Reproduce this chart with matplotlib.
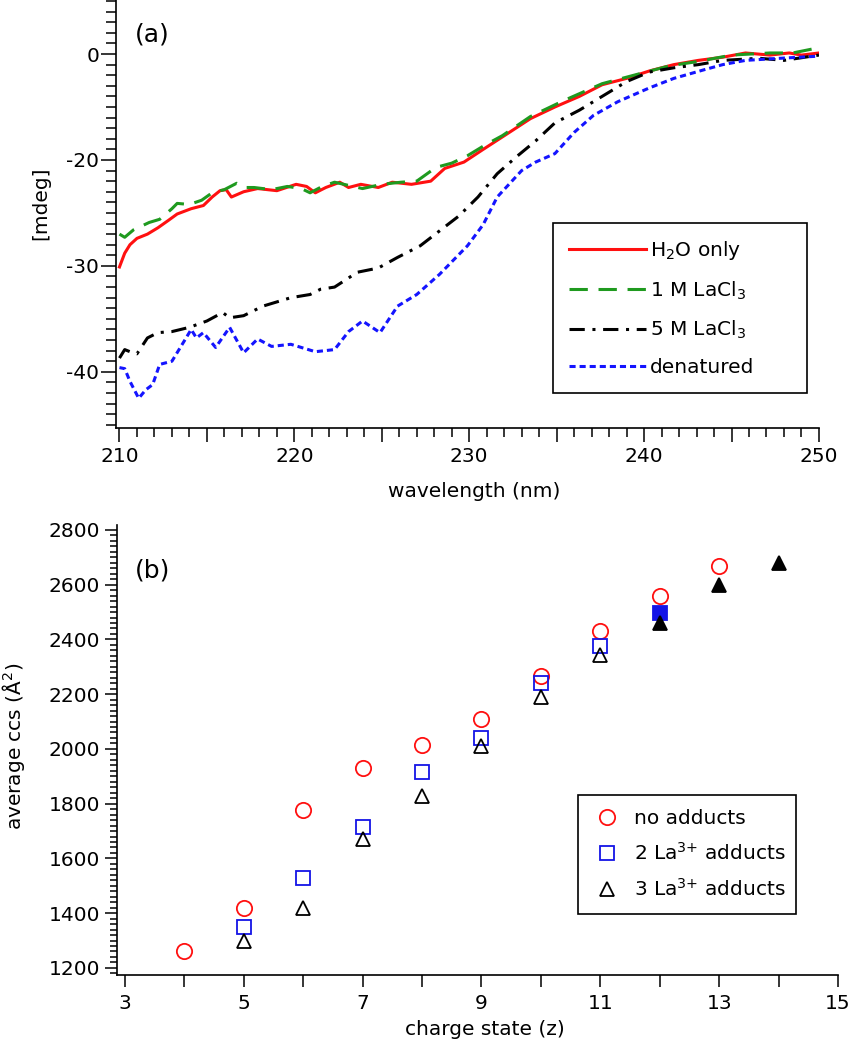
import numpy as np
import matplotlib
matplotlib.use('Agg')
import matplotlib.pyplot as plt
from matplotlib.ticker import MultipleLocator, FixedLocator, FuncFormatter

# ---- panel (a): CD spectra ----
wl_h2o = [210.0, 210.3, 210.6, 211.0, 211.6, 212.2, 212.8, 213.3, 214.1, 214.8, 215.3, 215.75,
          216.1, 216.4, 217.1, 217.9, 219.0, 220.1, 220.7, 221.2, 221.8, 222.6, 223.1, 223.8,
          224.8, 225.6, 226.7, 227.8, 228.6, 229.7, 230.8, 232.2, 233.5, 234.9, 236.3, 237.6,
          239.0, 240.3, 241.7, 243.1, 244.5, 245.8, 247.2, 248.3, 249.0, 250.0]
cd_h2o = [-30.1, -28.8, -28.0, -27.4, -27.0, -26.4, -25.7, -25.1, -24.6, -24.3, -23.5, -22.9,
          -22.8, -23.5, -23.0, -22.7, -22.9, -22.3, -22.5, -23.1, -22.6, -22.1, -22.6, -22.3,
          -22.6, -22.1, -22.3, -22.0, -20.8, -20.2, -19.0, -17.5, -16.1, -15.0, -14.0, -12.9,
          -12.3, -11.6, -11.0, -10.6, -10.3, -9.9, -10.1, -9.9, -10.1, -9.9]

wl_1m = [210.0, 210.3, 210.8, 211.7, 212.3, 213.0, 213.3, 214.0, 214.7, 215.3, 216.0, 216.7,
         217.2, 217.7, 218.7, 219.6, 220.4, 220.9, 221.6, 222.3, 223.1, 223.9, 225.0, 226.1,
         227.0, 228.1, 229.0, 229.9, 230.9, 231.9, 233.5, 235.4, 237.6, 240.1, 241.5, 243.1,
         245.0, 247.2, 248.5, 249.7, 250.0]
cd_1m = [-27.0, -27.3, -26.6, -25.9, -25.6, -24.6, -24.1, -24.2, -23.8, -23.1, -22.8, -22.2,
         -22.6, -22.6, -22.8, -22.5, -22.7, -23.1, -22.5, -22.1, -22.4, -22.7, -22.3, -22.1,
         -22.0, -20.7, -20.3, -19.6, -18.6, -17.7, -15.9, -14.4, -12.8, -11.7, -11.1, -10.7,
         -10.1, -9.9, -9.9, -9.5, -9.4]

wl_5m = [210.0, 210.3, 210.6, 211.0, 211.6, 212.2, 213.0, 214.0, 215.0, 215.9, 216.3, 217.1,
         218.2, 219.8, 220.9, 221.5, 222.3, 223.6, 224.8, 225.9, 227.2, 228.3, 229.4, 230.5,
         231.6, 232.7, 233.8, 234.9, 236.3, 237.6, 239.0, 240.3, 241.7, 243.1, 244.5, 246.6,
         248.0, 250.0]
cd_5m = [-38.7, -37.9, -38.1, -38.3, -36.8, -36.3, -36.2, -35.8, -35.2, -34.4, -34.9, -34.7,
         -33.8, -33.0, -32.7, -32.2, -32.0, -30.6, -30.2, -29.2, -28.1, -26.7, -25.3, -23.5,
         -21.3, -19.7, -18.2, -16.5, -15.3, -14.0, -12.6, -11.7, -11.3, -11.0, -10.6, -10.4,
         -10.6, -10.1]

wl_den = [210.0, 210.3, 210.6, 211.1, 211.5, 211.9, 212.3, 213.0, 213.7, 214.1, 214.4, 214.8,
          215.5, 216.3, 217.1, 217.9, 218.7, 219.8, 221.2, 222.3, 223.1, 223.9, 224.9, 225.9,
          227.0, 228.3, 229.9, 230.8, 231.6, 233.0, 233.8, 234.9, 236.0, 237.1, 238.5, 240.3,
          241.7, 243.4, 244.5, 245.8, 247.8, 250.0]
cd_den = [-39.6, -39.7, -40.9, -42.5, -41.7, -41.2, -39.3, -39.0, -37.1, -36.0, -36.8, -36.3,
          -37.7, -35.8, -38.2, -36.9, -37.6, -37.4, -38.1, -37.9, -36.2, -35.2, -36.3, -33.8,
          -32.7, -30.8, -28.1, -26.1, -23.5, -21.0, -20.2, -19.4, -17.4, -15.8, -14.5, -13.2,
          -12.3, -11.5, -11.0, -10.6, -10.4, -10.2]

ytick_pos_a = [-10, -20, -30, -40]
ytick_lab_a = ['0', '-20', '-30', '-40']

# ---- panel (b): collision cross sections ----
z_none = [4, 5, 6, 7, 8, 9, 10, 11, 12, 13]
ccs_none = [1262, 1418, 1778, 1930, 2015, 2108, 2265, 2432, 2560, 2668]
z_2la = [5, 6, 7, 8, 9, 10, 11, 12]
ccs_2la = [1350, 1528, 1715, 1915, 2040, 2240, 2375, 2495]
fill_2la = [False, False, False, False, False, False, False, True]
z_3la = [5, 6, 7, 8, 9, 10, 11, 12, 13, 14]
ccs_3la = [1298, 1420, 1670, 1828, 2010, 2190, 2342, 2460, 2598, 2680]
fill_3la = [False, False, False, False, False, False, False, True, True, True]
xticks_b = [3, 5, 7, 9, 11, 13, 15]

FS = 14.5
plt.rcParams['font.family'] = ['DejaVu Sans']
plt.rcParams['font.size'] = FS

fig = plt.figure(figsize=(8.49, 10.5), dpi=100)

# ================= (a) =================
ax1 = fig.add_axes([0.1366, 0.5924, 0.828, 0.4076])
ax1.plot(wl_h2o, cd_h2o, color='#ff1010', lw=2.2, label=r'H$_\mathregular{2}$O only')
ax1.plot(wl_1m, cd_1m, color='#1f9a1f', lw=2.2, dashes=(6, 3.5), label=r'1 M LaCl$_\mathregular{3}$')
ax1.plot(wl_5m, cd_5m, color='black', lw=2.2, dashes=(5, 2.5, 1, 2.5), label=r'5 M LaCl$_\mathregular{3}$')
ax1.plot(wl_den, cd_den, color='#1414ff', lw=2.2, dashes=(2, 1.3), label='denatured')

ax1.set_xlim(209.8, 250)
ax1.set_ylim(-45.3, -4.9)
ax1.xaxis.set_major_locator(MultipleLocator(5))
ax1.xaxis.set_minor_locator(MultipleLocator(1))
ax1.xaxis.set_major_formatter(FuncFormatter(lambda v, p: f'{v:.0f}' if round(v) % 10 == 0 else ''))
ax1.yaxis.set_major_locator(FixedLocator(ytick_pos_a))
ax1.set_yticklabels(ytick_lab_a)
ax1.yaxis.set_minor_locator(MultipleLocator(1))
ax1.tick_params(axis='x', which='major', direction='out', length=10, width=1.1, pad=3.5)
ax1.tick_params(axis='x', which='minor', direction='out', length=6.7, width=1.1)
ax1.tick_params(axis='y', which='major', direction='out', length=10.5, width=1.1, pad=1.5)
ax1.tick_params(axis='y', which='minor', direction='out', length=7.5, width=1.1)
for s in ['top', 'right']:
    ax1.spines[s].set_visible(False)
for s in ['left', 'bottom']:
    ax1.spines[s].set_linewidth(1.2)

ax1.set_xlabel('wavelength (nm)', fontsize=FS)
ax1.xaxis.set_label_coords(0.509, -0.126)
ax1.xaxis.label.set_va('top')
ax1.set_ylabel('[mdeg]', fontsize=FS)
ax1.yaxis.set_label_coords(-0.094, 0.526)
ax1.text(0.027, 0.92, '(a)', transform=ax1.transAxes, fontsize=18, va='center', ha='left')

leg1 = ax1.legend(loc='upper left', bbox_to_anchor=(0.6216, 0.0865, 0.3613, 0.3925),
                  mode='expand', borderaxespad=0, fontsize=FS, handlelength=3.8,
                  handletextpad=0.2, labelspacing=0.85, borderpad=0.8, fancybox=False,
                  framealpha=1, edgecolor='black')
leg1.get_frame().set_linewidth(1.2)

# ================= (b) =================
ax2 = fig.add_axes([0.1378, 0.0714, 0.8492, 0.4286])
ms = 11
ax2.plot(z_none, ccs_none, ls='none', marker='o', ms=ms, mfc='none', mec='#ff1010', mew=1.3,
         label='no adducts')
z2 = np.array(z_2la); c2 = np.array(ccs_2la); f2 = np.array(fill_2la)
z3 = np.array(z_3la); c3 = np.array(ccs_3la); f3 = np.array(fill_3la)
ax2.plot(z2[~f2], c2[~f2], ls='none', marker='s', ms=10, mfc='none', mec='#1414e6', mew=1.3,
         label=r'2 La$^{\mathregular{3{+}}}$ adducts')
ax2.plot(z3[~f3], c3[~f3], ls='none', marker='^', ms=10.5, mfc='none', mec='black', mew=1.3,
         label=r'3 La$^{\mathregular{3{+}}}$ adducts')
ax2.plot(z2[f2], c2[f2], ls='none', marker='s', ms=10, mfc='#1414e6', mec='#1414e6', mew=1.3)
ax2.plot(z3[f3], c3[f3], ls='none', marker='^', ms=10.5, mfc='black', mec='black', mew=1.3)

ax2.set_xlim(2.865, 15)
ax2.set_ylim(1174, 2818)
ax2.xaxis.set_major_locator(FixedLocator(xticks_b))
ax2.xaxis.set_minor_locator(MultipleLocator(1))
ax2.xaxis.set_major_formatter(FuncFormatter(lambda v, p: f'{v:.0f}'))
ax2.yaxis.set_major_locator(MultipleLocator(200))
ax2.yaxis.set_minor_locator(MultipleLocator(20))
ax2.tick_params(axis='x', which='both', direction='out', length=8.7, width=1.1, pad=5)
ax2.tick_params(axis='y', which='major', direction='out', length=8.7, width=1.1, pad=3.5)
ax2.tick_params(axis='y', which='minor', direction='out', length=5, width=1.1)
for s in ['top', 'right']:
    ax2.spines[s].set_visible(False)
for s in ['left', 'bottom']:
    ax2.spines[s].set_linewidth(1.2)

ax2.set_xlabel('charge state (z)', fontsize=FS)
ax2.xaxis.set_label_coords(0.51, -0.101)
ax2.xaxis.label.set_va('top')
ax2.set_ylabel(r'average ccs (Å$^{\mathregular{2}}$)', fontsize=FS)
ax2.yaxis.set_label_coords(-0.125, 0.509)
ax2.text(0.025, 0.9, '(b)', transform=ax2.transAxes, fontsize=18, va='center', ha='left')

leg2 = ax2.legend(loc='upper left', bbox_to_anchor=(0.6394, 0.138, 0.3024, 0.262),
                  mode='expand', borderaxespad=0, fontsize=FS, handlelength=1.5,
                  handletextpad=0.6, labelspacing=0.7, borderpad=0.7, numpoints=1,
                  fancybox=False, framealpha=1, edgecolor='black')
leg2.get_frame().set_linewidth(1.2)

fig.savefig('out.png', dpi=100)
